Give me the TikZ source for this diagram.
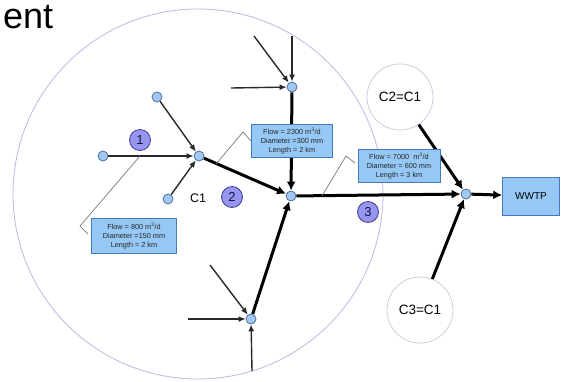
\documentclass[tikz,border=0pt]{standalone}
\usepackage{fontspec}
\setmainfont{Liberation Sans}
\usetikzlibrary{arrows.meta}
\definecolor{ptfill}{RGB}{160,200,240}
\definecolor{ptline}{RGB}{80,110,150}
\definecolor{boxfill}{RGB}{150,200,245}
\definecolor{boxline}{RGB}{70,120,190}
\definecolor{numfill}{RGB}{150,150,240}
\definecolor{numline}{RGB}{60,60,140}
\definecolor{numtext}{RGB}{20,20,80}
\definecolor{ring}{RGB}{185,185,225}
\definecolor{smallring}{RGB}{205,205,225}
\definecolor{pipe}{RGB}{40,40,40}
\definecolor{leadcol}{RGB}{120,120,120}
\begin{document}
\begin{tikzpicture}[x=1pt,y=-1pt,
  pt/.style={circle,draw=ptline,fill=ptfill,line width=0.8pt,minimum size=10pt,inner sep=0pt},
  feed/.style={draw=pipe,line width=1.4pt,-{Latex[length=7pt,width=6pt]}},
  main/.style={draw=black,line width=3pt,-{Latex[length=9pt,width=9pt]}},
  info/.style={draw=boxline,fill=boxfill,line width=0.6pt,align=center,inner sep=1pt,
    font=\fontsize{7.3}{9.3}\selectfont,text=black!85},
  num/.style={circle,draw=numline,fill=numfill,line width=0.8pt,minimum size=21pt,inner sep=0pt,
    text=numtext,font=\fontsize{13}{13}\selectfont},
  zone/.style={circle,draw=smallring,line width=0.8pt,minimum size=66pt,inner sep=0pt,
    font=\fontsize{13.5}{14}\selectfont},
  leader/.style={draw=leadcol,line width=0.7pt}]
\useasboundingbox (0,0) rectangle (561,381);

% heading fragment
\node[anchor=base west,inner sep=0pt,font=\fontsize{36}{36}\selectfont] (head) at (3,28) {ent};

% catchment boundary
\draw[ring,line width=0.8pt] (198,194) circle[radius=185];

% junctions and sources
\node[pt] (a1) at (157,97) {};
\node[pt] (a2) at (103,156) {};
\node[pt] (j1) at (199,156) {};
\node[pt] (a3) at (168,199) {};
\node[pt] (j2) at (292,87) {};
\node[pt] (j3) at (291,196) {};
\node[pt] (j4) at (251,319) {};
\node[pt] (j5) at (466,194) {};

% free ends of the incoming feeds
\coordinate (t1) at (254,36);
\coordinate (t2) at (292,36);
\coordinate (t3) at (231,88);
\coordinate (b1) at (210,265);
\coordinate (b2) at (188,319);
\coordinate (b3) at (252,371);

% neighbouring catchments and plant
\node[zone] (c2) at (400,97) {C2=C1};
\node[zone] (c3) at (420,310) {C3=C1};
\node[draw=boxline,fill=boxfill,line width=0.6pt,minimum width=57pt,minimum height=38pt,
  inner sep=0pt,font=\fontsize{10}{10}\selectfont] (wwtp) at (531,196) {WWTP};

% labels
\node[font=\fontsize{12.5}{13}\selectfont] (c1) at (198,198) {C1};
\node[num] (n1) at (140,140) {1};
\node[num] (n2) at (232,197) {2};
\node[num] (n3) at (368,212) {3};

% feeders
\draw[feed] (a1) -- (j1);
\draw[feed] (a2) -- (j1);
\draw[feed] (a3) -- (j1);
\draw[feed] (t1) -- (j2);
\draw[feed] (t2) -- (j2);
\draw[feed] (t3) -- (j2);
\draw[feed] (b1) -- (j4);
\draw[feed] (b2) -- (j4);
\draw[feed] (b3) -- (j4);

% trunk sewers
\draw[main] (j1) -- (j3);
\draw[main] (j2) -- (j3);
\draw[main] (j4) -- (j3);
\draw[main] (j3) -- (j5);
\draw[main] (c2) -- (j5);
\draw[main] (c3) -- (j5);
\draw[main] (j5) -- (wwtp);

% callout leaders
\coordinate (l1a) at (140,156);
\coordinate (l1b) at (80,226);
\coordinate (l1c) at (88,234);
\draw[leader] (l1a) -- (l1b) -- (l1c);
\coordinate (l2a) at (216,164);
\coordinate (l2b) at (243,132);
\coordinate (l2c) at (251,141);
\draw[leader] (l2a) -- (l2b) -- (l2c);
\coordinate (l3a) at (322,196);
\coordinate (l3b) at (346,156);
\coordinate (l3c) at (355,163);
\draw[leader] (l3a) -- (l3b) -- (l3c);

% pipe data
\node[info,minimum width=85pt,minimum height=35pt] (i1) at (134,236)
  {Flow = 800 m\textsuperscript{3}/d\\Diameter =150 mm\\Length = 2 km};
\node[info,minimum width=81pt,minimum height=33pt] (i2) at (292,141)
  {Flow = 2300 m\textsuperscript{3}/d\\Diameter =300 mm\\Length = 2 km};
\node[info,minimum width=82pt,minimum height=33pt] (i3) at (399,166)
  {Flow = 7000~~m\textsuperscript{3}/d\\Diameter = 600 mm\\Length = 3 km};
\end{tikzpicture}
\end{document}
